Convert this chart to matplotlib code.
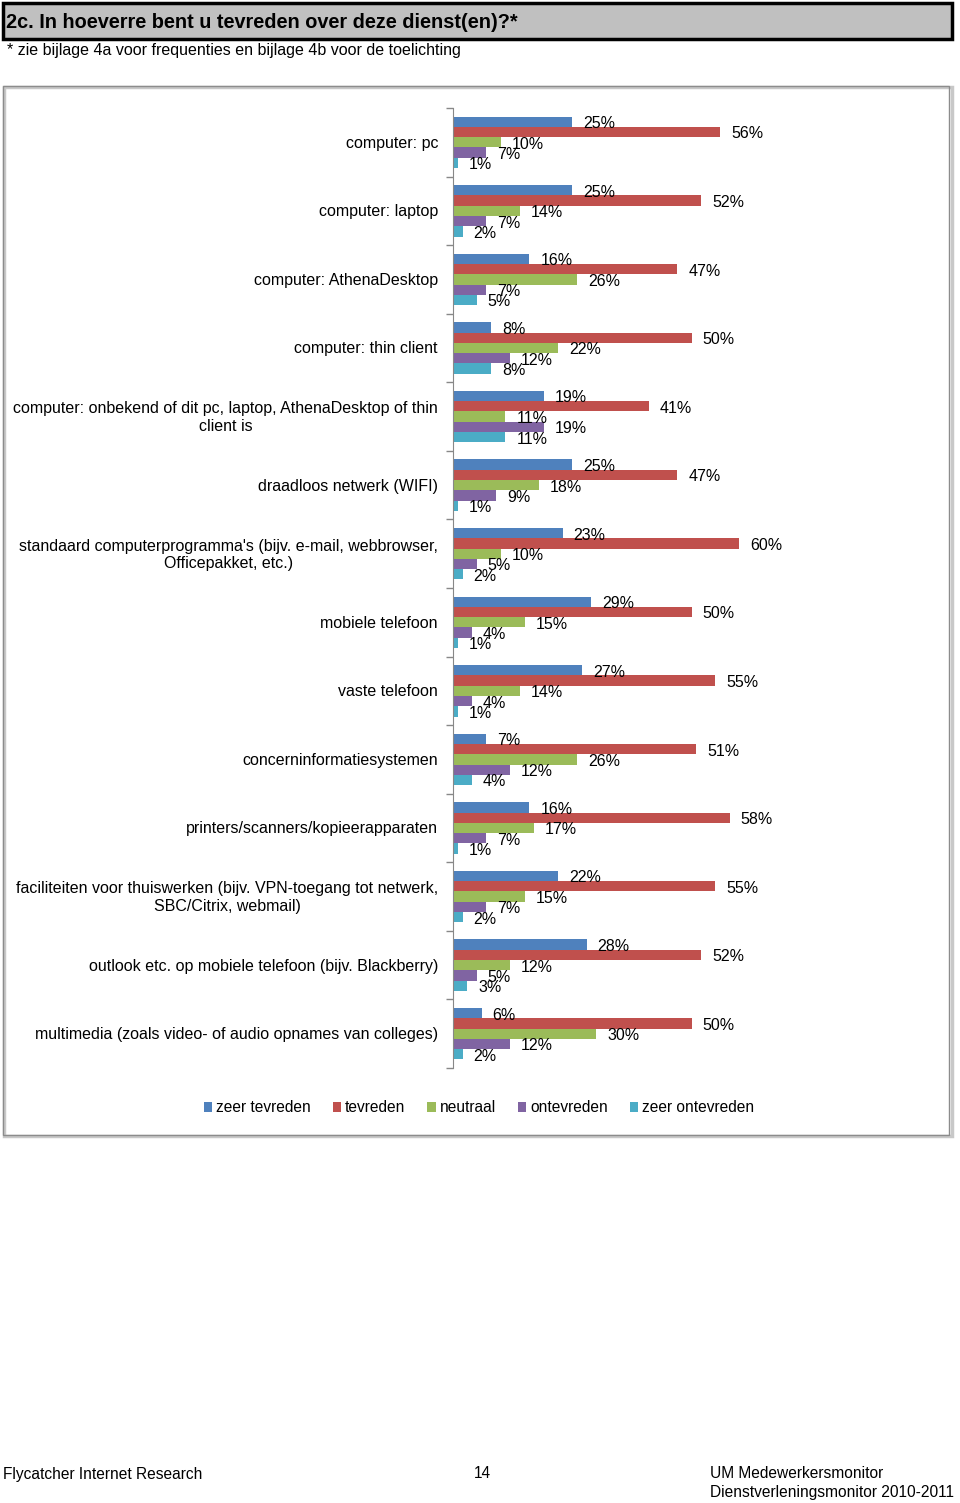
import matplotlib
matplotlib.use("Agg")
import matplotlib.pyplot as plt
from matplotlib.patches import Rectangle
from matplotlib import font_manager
import matplotlib.transforms as mtransforms

plt.rcParams['font.family'] = ['Liberation Sans', 'DejaVu Sans']

categories = [
    "computer: pc",
    "computer: laptop",
    "computer: AthenaDesktop",
    "computer: thin client",
    "computer: onbekend of dit pc, laptop, AthenaDesktop of thin\nclient is",
    "draadloos netwerk (WIFI)",
    "standaard computerprogramma's (bijv. e-mail, webbrowser,\nOfficepakket, etc.)",
    "mobiele telefoon",
    "vaste telefoon",
    "concerninformatiesystemen",
    "printers/scanners/kopieerapparaten",
    "faciliteiten voor thuiswerken (bijv. VPN-toegang tot netwerk,\nSBC/Citrix, webmail)",
    "outlook etc. op mobiele telefoon (bijv. Blackberry)",
    "multimedia (zoals video- of audio opnames van colleges)",
]

series_names = ["zeer tevreden", "tevreden", "neutraal", "ontevreden", "zeer ontevreden"]
zeer_tevreden = [25, 25, 16, 8, 19, 25, 23, 29, 27, 7, 16, 22, 28, 6]
tevreden = [56, 52, 47, 50, 41, 47, 60, 50, 55, 51, 58, 55, 52, 50]
neutraal = [10, 14, 26, 22, 11, 18, 10, 15, 14, 26, 17, 15, 12, 30]
ontevreden = [7, 7, 7, 12, 19, 9, 5, 4, 4, 12, 7, 7, 5, 12]
zeer_ontevreden = [1, 2, 5, 8, 11, 1, 2, 1, 1, 4, 1, 2, 3, 2]
series = [zeer_tevreden, tevreden, neutraal, ontevreden, zeer_ontevreden]
colors = ["#4F81BD", "#C0504D", "#9BBB59", "#8064A2", "#4BACC6"]

W, H = 960, 1503
fig = plt.figure(figsize=(W / 100, H / 100), dpi=100)

def fx(px):
    return px / W

def fy(py):
    return 1 - py / H

# title box
fig.patches.append(Rectangle((fx(3), fy(39)), fx(949), 36 / H, transform=fig.transFigure,
                             facecolor="#C0C0C0", edgecolor="black", linewidth=2.5))
fig.text(fx(6), fy(22), "2c. In hoeverre bent u tevreden over deze dienst(en)?*",
         fontsize=14.3, fontweight="bold", va="center", ha="left")
fig.text(fx(7), fy(51), "* zie bijlage 4a voor frequenties en bijlage 4b voor de toelichting",
         fontsize=11.5, va="center", ha="left")

# chart frame
fig.patches.append(Rectangle((fx(4), fy(1136)), fx(948), 1049 / H, transform=fig.transFigure,
                             facecolor="none", edgecolor="#C8C8C8", linewidth=2.5, zorder=-2))
fig.patches.append(Rectangle((fx(3), fy(1135)), fx(946), 1049 / H, transform=fig.transFigure,
                             facecolor="none", edgecolor="#8C8C8C", linewidth=1.0, zorder=-1))

# axes
ax_left, ax_right, ax_top, ax_bottom = 453, 930, 108, 1068
ax = fig.add_axes([fx(ax_left), fy(ax_bottom), (ax_right - ax_left) / W, (ax_bottom - ax_top) / H])
ax.patch.set_alpha(0)
n = len(categories)
bh = 0.15
for k, (vals, col) in enumerate(zip(series, colors)):
    ys = [i + 0.5 + (k - 2) * bh for i in range(n)]
    ax.barh(ys, vals, height=bh, color=col, edgecolor="none", label=series_names[k])
    off = mtransforms.offset_copy(ax.transData, fig=fig, x=11, y=-2, units="dots")
    for y, v in zip(ys, vals):
        ax.text(v, y, f"{v}%", transform=off, fontsize=11.5, va="center", ha="left")

ax.set_xlim(0, 100)
ax.set_ylim(n, 0)
ax.set_yticks(range(n + 1))
ax.set_yticklabels([])
ax.tick_params(axis="y", length=5, width=1, color="#888888", direction="out")
ax.set_xticks([])
for s in ["top", "right", "bottom"]:
    ax.spines[s].set_visible(False)
ax.spines["left"].set_color("#888888")

lab = mtransforms.offset_copy(ax.get_yaxis_transform(), fig=fig, x=-15, y=-1, units="dots")
for i, c in enumerate(categories):
    ax.text(0, i + 0.5, c, transform=lab, fontsize=11.5, ha="right", va="center",
            multialignment="center", linespacing=1.2)

handles, labels = ax.get_legend_handles_labels()
fig.legend(handles, labels, loc="center", bbox_to_anchor=(fx(479), fy(1108)), ncol=5,
           frameon=False, fontsize=11.2, handlelength=0.55, handleheight=0.55,
           handletextpad=0.25, columnspacing=1.4)

# footer
narrow = ["Liberation Sans Narrow", "Liberation Sans"]
try:
    font_manager.findfont("Liberation Sans Narrow", fallback_to_default=False)
    fsize = 12.5
except Exception:
    narrow = ["Liberation Sans"]
    fsize = 11.2
fig.text(fx(3), fy(1474), "Flycatcher Internet Research", family=narrow, fontsize=fsize, va="center")
fig.text(fx(482), fy(1474), "14", family=narrow, fontsize=fsize, va="center", ha="center")
fig.text(fx(710), fy(1474), "UM Medewerkersmonitor", family=narrow, fontsize=fsize, va="center")
fig.text(fx(710), fy(1492), "Dienstverleningsmonitor 2010-2011", family=narrow, fontsize=fsize, va="center")

fig.savefig("out.png", dpi=100)
